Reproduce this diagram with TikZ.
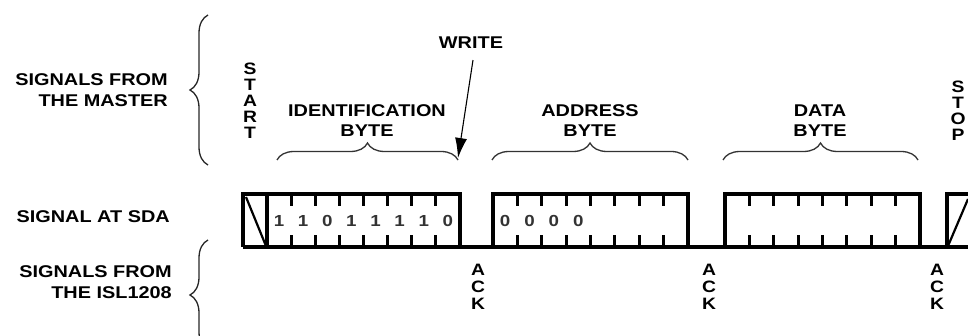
\documentclass[tikz,border=0pt]{standalone}
\usepackage{fontspec}
\setmainfont{Liberation Sans}[FakeStretch=1.17]
\usetikzlibrary{decorations.pathreplacing,arrows.meta}
\begin{document}
\begin{tikzpicture}[x=1pt,y=-1pt,
  lbl/.style={font=\fontsize{17}{21}\selectfont\bfseries, inner sep=0pt, align=center, text=black},
  vtxt/.style={lbl, font=\fontsize{16.5}{#1}\selectfont\bfseries},
  bit/.style={font=\fontsize{16}{16}\selectfont\bfseries, inner sep=0pt, text=black!80},
  wave/.style={line width=3.3pt, black},
  tick/.style={line width=2.8pt, black},
  slash/.style={line width=2.2pt, black},
  bigbrace/.style={decorate, decoration={brace, amplitude=18pt}, line width=1.3pt, black!85},
  bytebrace/.style={decorate, decoration={brace, amplitude=17pt}, line width=1.3pt, black!80},
  wrarrow/.style={line width=1.1pt, -{Latex[length=20pt,width=12pt]}},
]
\useasboundingbox (0,0) rectangle (968,336);

% row labels on the left
\node[lbl, align=right, anchor=east] (master) at (168,90.5) {SIGNALS FROM\\THE MASTER};
\node[lbl, align=right, anchor=east] (sda) at (170,217) {SIGNAL AT SDA};
\node[lbl, align=right, anchor=east] (isl) at (172,282) {SIGNALS FROM\\THE ISL1208};

% grouping braces
\begin{scope}
  \clip (0,0) rectangle (968,336);
  \draw[bigbrace] (208,165) -- (208,15);
  \draw[bigbrace] (208,350) -- (208,240);
\end{scope}

% start and stop conditions
\node[vtxt=16] (start) at (250,101) {S\\T\\A\\R\\T};
\node[vtxt=16] (stop) at (958,111) {S\\T\\O\\P};

% byte captions
\node[lbl, font=\fontsize{17}{19.5}\selectfont\bfseries] (idcap) at (367,120.5) {IDENTIFICATION\\BYTE};
\node[lbl, font=\fontsize{17}{19.5}\selectfont\bfseries] (adcap) at (590,120.5) {ADDRESS\\BYTE};
\node[lbl, font=\fontsize{17}{19.5}\selectfont\bfseries] (dacap) at (820,120.5) {DATA\\BYTE};

\draw[bytebrace] (277,160) -- (458,160);
\draw[bytebrace] (492,160) -- (688,160);
\draw[bytebrace] (723,160) -- (918,160);

% write bit marker
\node[lbl] (wr) at (471,43) {WRITE};
\coordinate (wrtip) at (458,158);
\draw[wrarrow] ([shift={(2,11)}]wr.south) -- (wrtip);

% acknowledge slots
\node[vtxt=17] (ack1) at (478,287) {A\\C\\K};
\node[vtxt=17] (ack2) at (709,287) {A\\C\\K};
\node[vtxt=17] (ack3) at (937,287) {A\\C\\K};

% SDA waveform
\draw[wave] (243,247) -- (968,247);
\draw[wave] (243,247) -- (243,194) -- (267,194);
\draw[slash] (246,197) -- (266,246);
\draw[wave] (947,247) -- (947,194) -- (968,194);
\draw[slash] (948,246) -- (968,199);

\foreach \xa/\xb in {267/460, 493/688, 725/920} {
  \draw[wave] (\xa,247) rectangle (\xb,194);
  \foreach \k in {1,...,7} {
    \draw[tick] ({\xa+(\xb-\xa)*\k/8},194) -- ++(0,12);
    \draw[tick] ({\xa+(\xb-\xa)*\k/8},247) -- ++(0,-12);
  }
}

% bit values
\foreach \b [count=\i from 0] in {1,1,0,1,1,1,1,0}
  \node[bit] (idb\i) at ({267+193*(\i+0.5)/8},221) {\b};
\foreach \b [count=\i from 0] in {0,0,0,0}
  \node[bit] (adb\i) at ({493+195*(\i+0.5)/8},221) {\b};
\end{tikzpicture}
\end{document}
